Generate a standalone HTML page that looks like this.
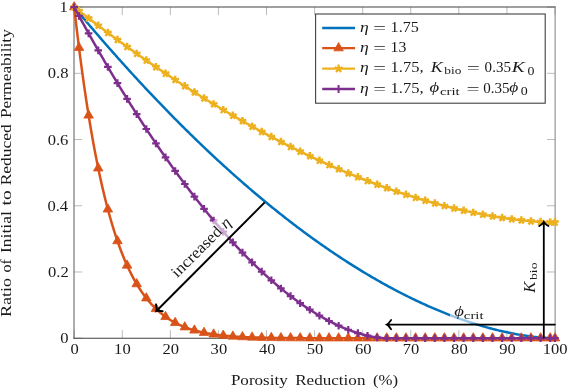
<!DOCTYPE html>
<html><head><meta charset="utf-8"><style>html,body{margin:0;padding:0;background:#fff;overflow:hidden}svg{display:block;will-change:transform;}</style></head>
<body><svg width="568" height="388" viewBox="0 0 568 388">
<rect width="568" height="388" fill="#fff"/>
<path d="M74.20,338.20 V330.20 M74.20,7.10 V15.10 M122.28,338.20 V330.20 M122.28,7.10 V15.10 M170.36,338.20 V330.20 M170.36,7.10 V15.10 M218.44,338.20 V330.20 M218.44,7.10 V15.10 M266.52,338.20 V330.20 M266.52,7.10 V15.10 M314.60,338.20 V330.20 M314.60,7.10 V15.10 M362.68,338.20 V330.20 M362.68,7.10 V15.10 M410.76,338.20 V330.20 M410.76,7.10 V15.10 M458.84,338.20 V330.20 M458.84,7.10 V15.10 M506.92,338.20 V330.20 M506.92,7.10 V15.10 M555.00,338.20 V330.20 M555.00,7.10 V15.10 M74.20,338.20 H82.20 M555.00,338.20 H547.00 M74.20,271.98 H82.20 M555.00,271.98 H547.00 M74.20,205.76 H82.20 M555.00,205.76 H547.00 M74.20,139.54 H82.20 M555.00,139.54 H547.00 M74.20,73.32 H82.20 M555.00,73.32 H547.00 M74.20,7.10 H82.20 M555.00,7.10 H547.00 " stroke="#b4b4b4" stroke-width="0.9" fill="none"/>
<path d="M73.5,7.0 H555.6" stroke="#404040" stroke-width="1.2"/>
<path d="M74.0,6.5 V338.8" stroke="#5a5a5a" stroke-width="1.0"/>
<path d="M555.1,6.5 V338.8" stroke="#808080" stroke-width="1.0"/>
<path d="M73.5,338.3 H555.6" stroke="#404040" stroke-width="1.1"/>
<g font-family="Liberation Serif" fill="#1a1a1a" style="font-kerning:none"><text x="70.61" y="354.00" font-size="14.8" textLength="8.29" lengthAdjust="spacingAndGlyphs">0</text><text x="114.13" y="354.00" font-size="14.8" textLength="16.58" lengthAdjust="spacingAndGlyphs">10</text><text x="162.57" y="354.00" font-size="14.8" textLength="16.58" lengthAdjust="spacingAndGlyphs">20</text><text x="210.62" y="354.00" font-size="14.8" textLength="16.58" lengthAdjust="spacingAndGlyphs">30</text><text x="258.94" y="354.00" font-size="14.8" textLength="16.58" lengthAdjust="spacingAndGlyphs">40</text><text x="306.70" y="354.00" font-size="14.8" textLength="16.58" lengthAdjust="spacingAndGlyphs">50</text><text x="354.90" y="354.00" font-size="14.8" textLength="16.58" lengthAdjust="spacingAndGlyphs">60</text><text x="402.79" y="354.00" font-size="14.8" textLength="16.58" lengthAdjust="spacingAndGlyphs">70</text><text x="451.10" y="354.00" font-size="14.8" textLength="16.58" lengthAdjust="spacingAndGlyphs">80</text><text x="499.23" y="354.00" font-size="14.8" textLength="16.58" lengthAdjust="spacingAndGlyphs">90</text><text x="542.71" y="354.00" font-size="14.8" textLength="24.86" lengthAdjust="spacingAndGlyphs">100</text><text x="60.24" y="343.20" font-size="14.8" textLength="8.29" lengthAdjust="spacingAndGlyphs">0</text><text x="48.09" y="276.98" font-size="14.8" textLength="20.72" lengthAdjust="spacingAndGlyphs">0.2</text><text x="47.44" y="210.76" font-size="14.8" textLength="20.72" lengthAdjust="spacingAndGlyphs">0.4</text><text x="47.67" y="144.54" font-size="14.8" textLength="20.72" lengthAdjust="spacingAndGlyphs">0.6</text><text x="47.81" y="78.32" font-size="14.8" textLength="20.72" lengthAdjust="spacingAndGlyphs">0.8</text><text x="59.61" y="12.10" font-size="14.8" textLength="8.29" lengthAdjust="spacingAndGlyphs">1</text></g>
<path d="M74.20,7.10 L75.40,8.55 L76.60,9.99 L77.81,11.43 L79.01,12.87 L80.21,14.31 L81.41,15.74 L82.61,17.17 L83.82,18.60 L85.02,20.03 L86.22,21.45 L87.42,22.87 L88.62,24.29 L89.83,25.70 L91.03,27.11 L92.23,28.52 L93.43,29.93 L94.63,31.33 L95.84,32.73 L97.04,34.13 L98.24,35.53 L99.44,36.92 L100.64,38.31 L101.85,39.70 L103.05,41.08 L104.25,42.46 L105.45,43.84 L106.65,45.22 L107.86,46.59 L109.06,47.96 L110.26,49.33 L111.46,50.69 L112.66,52.05 L113.87,53.41 L115.07,54.77 L116.27,56.12 L117.47,57.47 L118.67,58.82 L119.88,60.17 L121.08,61.51 L122.28,62.85 L123.48,64.19 L124.68,65.52 L125.89,66.85 L127.09,68.18 L128.29,69.51 L129.49,70.83 L130.69,72.15 L131.90,73.47 L133.10,74.78 L134.30,76.10 L135.50,77.41 L136.70,78.71 L137.91,80.02 L139.11,81.32 L140.31,82.61 L141.51,83.91 L142.71,85.20 L143.92,86.49 L145.12,87.78 L146.32,89.06 L147.52,90.34 L148.72,91.62 L149.93,92.89 L151.13,94.17 L152.33,95.44 L153.53,96.70 L154.73,97.97 L155.94,99.23 L157.14,100.49 L158.34,101.74 L159.54,102.99 L160.74,104.24 L161.95,105.49 L163.15,106.74 L164.35,107.98 L165.55,109.21 L166.75,110.45 L167.96,111.68 L169.16,112.91 L170.36,114.14 L171.56,115.36 L172.76,116.58 L173.97,117.80 L175.17,119.02 L176.37,120.23 L177.57,121.44 L178.77,122.65 L179.98,123.85 L181.18,125.05 L182.38,126.25 L183.58,127.44 L184.78,128.64 L185.99,129.82 L187.19,131.01 L188.39,132.19 L189.59,133.37 L190.79,134.55 L192.00,135.73 L193.20,136.90 L194.40,138.07 L195.60,139.23 L196.80,140.40 L198.01,141.56 L199.21,142.71 L200.41,143.87 L201.61,145.02 L202.81,146.17 L204.02,147.31 L205.22,148.46 L206.42,149.60 L207.62,150.73 L208.82,151.87 L210.03,153.00 L211.23,154.13 L212.43,155.25 L213.63,156.37 L214.83,157.49 L216.04,158.61 L217.24,159.72 L218.44,160.83 L219.64,161.94 L220.84,163.04 L222.05,164.14 L223.25,165.24 L224.45,166.34 L225.65,167.43 L226.85,168.52 L228.06,169.60 L229.26,170.69 L230.46,171.77 L231.66,172.84 L232.86,173.92 L234.07,174.99 L235.27,176.06 L236.47,177.12 L237.67,178.18 L238.87,179.24 L240.08,180.30 L241.28,181.35 L242.48,182.40 L243.68,183.45 L244.88,184.49 L246.09,185.54 L247.29,186.57 L248.49,187.61 L249.69,188.64 L250.89,189.67 L252.10,190.70 L253.30,191.72 L254.50,192.74 L255.70,193.75 L256.90,194.77 L258.11,195.78 L259.31,196.79 L260.51,197.79 L261.71,198.79 L262.91,199.79 L264.12,200.79 L265.32,201.78 L266.52,202.77 L267.72,203.75 L268.92,204.74 L270.13,205.72 L271.33,206.69 L272.53,207.67 L273.73,208.64 L274.93,209.60 L276.14,210.57 L277.34,211.53 L278.54,212.49 L279.74,213.44 L280.94,214.39 L282.15,215.34 L283.35,216.29 L284.55,217.23 L285.75,218.17 L286.95,219.11 L288.16,220.04 L289.36,220.97 L290.56,221.90 L291.76,222.82 L292.96,223.74 L294.17,224.66 L295.37,225.57 L296.57,226.48 L297.77,227.39 L298.97,228.29 L300.18,229.20 L301.38,230.09 L302.58,230.99 L303.78,231.88 L304.98,232.77 L306.19,233.66 L307.39,234.54 L308.59,235.42 L309.79,236.29 L310.99,237.16 L312.20,238.03 L313.40,238.90 L314.60,239.76 L315.80,240.62 L317.00,241.48 L318.21,242.33 L319.41,243.18 L320.61,244.03 L321.81,244.87 L323.01,245.71 L324.22,246.55 L325.42,247.38 L326.62,248.21 L327.82,249.04 L329.02,249.87 L330.23,250.69 L331.43,251.50 L332.63,252.32 L333.83,253.13 L335.03,253.94 L336.24,254.74 L337.44,255.54 L338.64,256.34 L339.84,257.13 L341.04,257.92 L342.25,258.71 L343.45,259.50 L344.65,260.28 L345.85,261.05 L347.05,261.83 L348.26,262.60 L349.46,263.37 L350.66,264.13 L351.86,264.89 L353.06,265.65 L354.27,266.40 L355.47,267.15 L356.67,267.90 L357.87,268.64 L359.07,269.39 L360.28,270.12 L361.48,270.86 L362.68,271.59 L363.88,272.31 L365.08,273.04 L366.29,273.76 L367.49,274.47 L368.69,275.19 L369.89,275.90 L371.09,276.60 L372.30,277.31 L373.50,278.00 L374.70,278.70 L375.90,279.39 L377.10,280.08 L378.31,280.77 L379.51,281.45 L380.71,282.13 L381.91,282.80 L383.11,283.47 L384.32,284.14 L385.52,284.81 L386.72,285.47 L387.92,286.12 L389.12,286.78 L390.33,287.43 L391.53,288.08 L392.73,288.72 L393.93,289.36 L395.13,289.99 L396.34,290.63 L397.54,291.26 L398.74,291.88 L399.94,292.50 L401.14,293.12 L402.35,293.74 L403.55,294.35 L404.75,294.95 L405.95,295.56 L407.15,296.16 L408.36,296.75 L409.56,297.35 L410.76,297.94 L411.96,298.52 L413.16,299.10 L414.37,299.68 L415.57,300.25 L416.77,300.83 L417.97,301.39 L419.17,301.96 L420.38,302.51 L421.58,303.07 L422.78,303.62 L423.98,304.17 L425.18,304.72 L426.39,305.26 L427.59,305.79 L428.79,306.33 L429.99,306.86 L431.19,307.38 L432.40,307.90 L433.60,308.42 L434.80,308.93 L436.00,309.44 L437.20,309.95 L438.41,310.45 L439.61,310.95 L440.81,311.45 L442.01,311.94 L443.21,312.42 L444.42,312.91 L445.62,313.39 L446.82,313.86 L448.02,314.33 L449.22,314.80 L450.43,315.26 L451.63,315.72 L452.83,316.18 L454.03,316.63 L455.23,317.08 L456.44,317.52 L457.64,317.96 L458.84,318.40 L460.04,318.83 L461.24,319.25 L462.45,319.68 L463.65,320.10 L464.85,320.51 L466.05,320.92 L467.25,321.33 L468.46,321.73 L469.66,322.13 L470.86,322.52 L472.06,322.91 L473.26,323.30 L474.47,323.68 L475.67,324.06 L476.87,324.43 L478.07,324.80 L479.27,325.16 L480.48,325.52 L481.68,325.88 L482.88,326.23 L484.08,326.58 L485.28,326.92 L486.49,327.26 L487.69,327.59 L488.89,327.92 L490.09,328.24 L491.29,328.57 L492.50,328.88 L493.70,329.19 L494.90,329.50 L496.10,329.80 L497.30,330.10 L498.51,330.39 L499.71,330.68 L500.91,330.96 L502.11,331.24 L503.31,331.52 L504.52,331.79 L505.72,332.05 L506.92,332.31 L508.12,332.57 L509.32,332.82 L510.53,333.06 L511.73,333.30 L512.93,333.54 L514.13,333.77 L515.33,334.00 L516.54,334.22 L517.74,334.43 L518.94,334.64 L520.14,334.85 L521.34,335.05 L522.55,335.24 L523.75,335.43 L524.95,335.61 L526.15,335.79 L527.35,335.96 L528.56,336.13 L529.76,336.29 L530.96,336.45 L532.16,336.60 L533.36,336.74 L534.57,336.88 L535.77,337.02 L536.97,337.14 L538.17,337.26 L539.37,337.38 L540.58,337.48 L541.78,337.59 L542.98,337.68 L544.18,337.77 L545.38,337.85 L546.59,337.92 L547.79,337.99 L548.99,338.05 L550.19,338.10 L551.39,338.14 L552.60,338.17 L553.80,338.19 L555.00,338.20" stroke="#0072bd" stroke-width="2.5" fill="none"/>
<path d="M74.20,7.10 L75.40,17.70 L76.60,27.99 L77.81,37.97 L79.01,47.65 L80.21,57.05 L81.41,66.16 L82.61,75.00 L83.82,83.58 L85.02,91.89 L86.22,99.96 L87.42,107.78 L88.62,115.36 L89.83,122.71 L91.03,129.84 L92.23,136.75 L93.43,143.45 L94.63,149.94 L95.84,156.23 L97.04,162.33 L98.24,168.23 L99.44,173.96 L100.64,179.50 L101.85,184.87 L103.05,190.08 L104.25,195.12 L105.45,200.00 L106.65,204.73 L107.86,209.30 L109.06,213.74 L110.26,218.03 L111.46,222.18 L112.66,226.20 L113.87,230.10 L115.07,233.86 L116.27,237.51 L117.47,241.04 L118.67,244.45 L119.88,247.75 L121.08,250.95 L122.28,254.04 L123.48,257.03 L124.68,259.92 L125.89,262.71 L127.09,265.42 L128.29,268.03 L129.49,270.56 L130.69,273.00 L131.90,275.36 L133.10,277.64 L134.30,279.85 L135.50,281.98 L136.70,284.04 L137.91,286.02 L139.11,287.95 L140.31,289.80 L141.51,291.59 L142.71,293.33 L143.92,295.00 L145.12,296.61 L146.32,298.17 L147.52,299.67 L148.72,301.12 L149.93,302.52 L151.13,303.88 L152.33,305.18 L153.53,306.44 L154.73,307.65 L155.94,308.83 L157.14,309.95 L158.34,311.04 L159.54,312.09 L160.74,313.11 L161.95,314.08 L163.15,315.03 L164.35,315.93 L165.55,316.81 L166.75,317.65 L167.96,318.46 L169.16,319.24 L170.36,320.00 L171.56,320.72 L172.76,321.42 L173.97,322.10 L175.17,322.74 L176.37,323.37 L177.57,323.97 L178.77,324.55 L179.98,325.10 L181.18,325.64 L182.38,326.15 L183.58,326.65 L184.78,327.13 L185.99,327.58 L187.19,328.02 L188.39,328.45 L189.59,328.86 L190.79,329.25 L192.00,329.62 L193.20,329.99 L194.40,330.33 L195.60,330.67 L196.80,330.99 L198.01,331.30 L199.21,331.59 L200.41,331.88 L201.61,332.15 L202.81,332.41 L204.02,332.66 L205.22,332.91 L206.42,333.14 L207.62,333.36 L208.82,333.57 L210.03,333.78 L211.23,333.97 L212.43,334.16 L213.63,334.34 L214.83,334.52 L216.04,334.68 L217.24,334.84 L218.44,334.99 L219.64,335.14 L220.84,335.28 L222.05,335.41 L223.25,335.54 L224.45,335.66 L225.65,335.78 L226.85,335.89 L228.06,336.00 L229.26,336.10 L230.46,336.20 L231.66,336.29 L232.86,336.38 L234.07,336.47 L235.27,336.55 L236.47,336.63 L237.67,336.71 L238.87,336.78 L240.08,336.85 L241.28,336.91 L242.48,336.98 L243.68,337.04 L244.88,337.09 L246.09,337.15 L247.29,337.20 L248.49,337.25 L249.69,337.30 L250.89,337.34 L252.10,337.38 L253.30,337.43 L254.50,337.46 L255.70,337.50 L256.90,337.54 L258.11,337.57 L259.31,337.60 L260.51,337.63 L261.71,337.66 L262.91,337.69 L264.12,337.72 L265.32,337.74 L266.52,337.77 L267.72,337.79 L268.92,337.81 L270.13,337.83 L271.33,337.85 L272.53,337.87 L273.73,337.89 L274.93,337.91 L276.14,337.92 L277.34,337.94 L278.54,337.95 L279.74,337.97 L280.94,337.98 L282.15,337.99 L283.35,338.00 L284.55,338.01 L285.75,338.02 L286.95,338.03 L288.16,338.04 L289.36,338.05 L290.56,338.06 L291.76,338.07 L292.96,338.08 L294.17,338.08 L295.37,338.09 L296.57,338.10 L297.77,338.10 L298.97,338.11 L300.18,338.11 L301.38,338.12 L302.58,338.12 L303.78,338.13 L304.98,338.13 L306.19,338.14 L307.39,338.14 L308.59,338.14 L309.79,338.15 L310.99,338.15 L312.20,338.15 L313.40,338.16 L314.60,338.16 L315.80,338.16 L317.00,338.16 L318.21,338.17 L319.41,338.17 L320.61,338.17 L321.81,338.17 L323.01,338.17 L324.22,338.18 L325.42,338.18 L326.62,338.18 L327.82,338.18 L329.02,338.18 L330.23,338.18 L331.43,338.18 L332.63,338.19 L333.83,338.19 L335.03,338.19 L336.24,338.19 L337.44,338.19 L338.64,338.19 L339.84,338.19 L341.04,338.19 L342.25,338.19 L343.45,338.19 L344.65,338.19 L345.85,338.19 L347.05,338.19 L348.26,338.19 L349.46,338.19 L350.66,338.20 L351.86,338.20 L353.06,338.20 L354.27,338.20 L355.47,338.20 L356.67,338.20 L357.87,338.20 L359.07,338.20 L360.28,338.20 L361.48,338.20 L362.68,338.20 L363.88,338.20 L365.08,338.20 L366.29,338.20 L367.49,338.20 L368.69,338.20 L369.89,338.20 L371.09,338.20 L372.30,338.20 L373.50,338.20 L374.70,338.20 L375.90,338.20 L377.10,338.20 L378.31,338.20 L379.51,338.20 L380.71,338.20 L381.91,338.20 L383.11,338.20 L384.32,338.20 L385.52,338.20 L386.72,338.20 L387.92,338.20 L389.12,338.20 L390.33,338.20 L391.53,338.20 L392.73,338.20 L393.93,338.20 L395.13,338.20 L396.34,338.20 L397.54,338.20 L398.74,338.20 L399.94,338.20 L401.14,338.20 L402.35,338.20 L403.55,338.20 L404.75,338.20 L405.95,338.20 L407.15,338.20 L408.36,338.20 L409.56,338.20 L410.76,338.20 L411.96,338.20 L413.16,338.20 L414.37,338.20 L415.57,338.20 L416.77,338.20 L417.97,338.20 L419.17,338.20 L420.38,338.20 L421.58,338.20 L422.78,338.20 L423.98,338.20 L425.18,338.20 L426.39,338.20 L427.59,338.20 L428.79,338.20 L429.99,338.20 L431.19,338.20 L432.40,338.20 L433.60,338.20 L434.80,338.20 L436.00,338.20 L437.20,338.20 L438.41,338.20 L439.61,338.20 L440.81,338.20 L442.01,338.20 L443.21,338.20 L444.42,338.20 L445.62,338.20 L446.82,338.20 L448.02,338.20 L449.22,338.20 L450.43,338.20 L451.63,338.20 L452.83,338.20 L454.03,338.20 L455.23,338.20 L456.44,338.20 L457.64,338.20 L458.84,338.20 L460.04,338.20 L461.24,338.20 L462.45,338.20 L463.65,338.20 L464.85,338.20 L466.05,338.20 L467.25,338.20 L468.46,338.20 L469.66,338.20 L470.86,338.20 L472.06,338.20 L473.26,338.20 L474.47,338.20 L475.67,338.20 L476.87,338.20 L478.07,338.20 L479.27,338.20 L480.48,338.20 L481.68,338.20 L482.88,338.20 L484.08,338.20 L485.28,338.20 L486.49,338.20 L487.69,338.20 L488.89,338.20 L490.09,338.20 L491.29,338.20 L492.50,338.20 L493.70,338.20 L494.90,338.20 L496.10,338.20 L497.30,338.20 L498.51,338.20 L499.71,338.20 L500.91,338.20 L502.11,338.20 L503.31,338.20 L504.52,338.20 L505.72,338.20 L506.92,338.20 L508.12,338.20 L509.32,338.20 L510.53,338.20 L511.73,338.20 L512.93,338.20 L514.13,338.20 L515.33,338.20 L516.54,338.20 L517.74,338.20 L518.94,338.20 L520.14,338.20 L521.34,338.20 L522.55,338.20 L523.75,338.20 L524.95,338.20 L526.15,338.20 L527.35,338.20 L528.56,338.20 L529.76,338.20 L530.96,338.20 L532.16,338.20 L533.36,338.20 L534.57,338.20 L535.77,338.20 L536.97,338.20 L538.17,338.20 L539.37,338.20 L540.58,338.20 L541.78,338.20 L542.98,338.20 L544.18,338.20 L545.38,338.20 L546.59,338.20 L547.79,338.20 L548.99,338.20 L550.19,338.20 L551.39,338.20 L552.60,338.20 L553.80,338.20 L555.00,338.20" stroke="#d95319" stroke-width="2.5" fill="none"/>
<path d="M74.20,1.60 L78.96,9.85 L69.44,9.85 Z M79.01,42.15 L83.77,50.40 L74.25,50.40 Z M88.62,109.86 L93.39,118.11 L83.86,118.11 Z M98.24,162.73 L103.00,170.98 L93.48,170.98 Z M107.86,203.80 L112.62,212.05 L103.09,212.05 Z M117.47,235.54 L122.24,243.79 L112.71,243.79 Z M127.09,259.92 L131.85,268.17 L122.33,268.17 Z M136.70,278.54 L141.47,286.79 L131.94,286.79 Z M146.32,292.67 L151.08,300.92 L141.56,300.92 Z M155.94,303.33 L160.70,311.58 L151.17,311.58 Z M165.55,311.31 L170.32,319.56 L160.79,319.56 Z M175.17,317.24 L179.93,325.49 L170.41,325.49 Z M184.78,321.63 L189.55,329.88 L180.02,329.88 Z M194.40,324.83 L199.16,333.08 L189.64,333.08 Z M204.02,327.16 L208.78,335.41 L199.25,335.41 Z M213.63,328.84 L218.40,337.09 L208.87,337.09 Z M223.25,330.04 L228.01,338.29 L218.48,338.29 Z M232.86,330.88 L237.63,339.13 L228.10,339.13 Z M242.48,331.48 L247.24,339.73 L237.72,339.73 Z M252.10,331.88 L256.86,340.13 L247.33,340.13 Z M261.71,332.16 L266.47,340.41 L256.95,340.41 Z M271.33,332.35 L276.09,340.60 L266.56,340.60 Z M280.94,332.48 L285.71,340.73 L276.18,340.73 Z M290.56,332.56 L295.32,340.81 L285.80,340.81 Z M300.18,332.61 L304.94,340.86 L295.41,340.86 Z M309.79,332.65 L314.56,340.90 L305.03,340.90 Z M319.41,332.67 L324.17,340.92 L314.65,340.92 Z M329.02,332.68 L333.79,340.93 L324.26,340.93 Z M338.64,332.69 L343.40,340.94 L333.88,340.94 Z M348.26,332.69 L353.02,340.94 L343.49,340.94 Z M357.87,332.70 L362.63,340.95 L353.11,340.95 Z M367.49,332.70 L372.25,340.95 L362.73,340.95 Z M377.10,332.70 L381.87,340.95 L372.34,340.95 Z M386.72,332.70 L391.48,340.95 L381.96,340.95 Z M396.34,332.70 L401.10,340.95 L391.57,340.95 Z M405.95,332.70 L410.72,340.95 L401.19,340.95 Z M415.57,332.70 L420.33,340.95 L410.81,340.95 Z M425.18,332.70 L429.95,340.95 L420.42,340.95 Z M434.80,332.70 L439.56,340.95 L430.04,340.95 Z M444.42,332.70 L449.18,340.95 L439.65,340.95 Z M454.03,332.70 L458.80,340.95 L449.27,340.95 Z M463.65,332.70 L468.41,340.95 L458.89,340.95 Z M473.26,332.70 L478.03,340.95 L468.50,340.95 Z M482.88,332.70 L487.64,340.95 L478.12,340.95 Z M492.50,332.70 L497.26,340.95 L487.73,340.95 Z M502.11,332.70 L506.88,340.95 L497.35,340.95 Z M511.73,332.70 L516.49,340.95 L506.97,340.95 Z M521.34,332.70 L526.11,340.95 L516.58,340.95 Z M530.96,332.70 L535.72,340.95 L526.20,340.95 Z M540.58,332.70 L545.34,340.95 L535.81,340.95 Z M550.19,332.70 L554.96,340.95 L545.43,340.95 Z M555.00,332.70 L559.76,340.95 L550.24,340.95 Z" fill="#d95319" stroke="#d95319" stroke-width="0.8"/>
<path d="M74.20,7.10 L75.40,8.04 L76.60,8.98 L77.81,9.92 L79.01,10.85 L80.21,11.79 L81.41,12.72 L82.61,13.65 L83.82,14.58 L85.02,15.50 L86.22,16.43 L87.42,17.35 L88.62,18.27 L89.83,19.19 L91.03,20.11 L92.23,21.02 L93.43,21.94 L94.63,22.85 L95.84,23.76 L97.04,24.67 L98.24,25.58 L99.44,26.48 L100.64,27.39 L101.85,28.29 L103.05,29.19 L104.25,30.08 L105.45,30.98 L106.65,31.88 L107.86,32.77 L109.06,33.66 L110.26,34.55 L111.46,35.43 L112.66,36.32 L113.87,37.20 L115.07,38.09 L116.27,38.97 L117.47,39.84 L118.67,40.72 L119.88,41.59 L121.08,42.47 L122.28,43.34 L123.48,44.21 L124.68,45.07 L125.89,45.94 L127.09,46.80 L128.29,47.67 L129.49,48.53 L130.69,49.38 L131.90,50.24 L133.10,51.09 L134.30,51.95 L135.50,52.80 L136.70,53.65 L137.91,54.49 L139.11,55.34 L140.31,56.18 L141.51,57.03 L142.71,57.87 L143.92,58.70 L145.12,59.54 L146.32,60.37 L147.52,61.21 L148.72,62.04 L149.93,62.87 L151.13,63.69 L152.33,64.52 L153.53,65.34 L154.73,66.16 L155.94,66.98 L157.14,67.80 L158.34,68.62 L159.54,69.43 L160.74,70.24 L161.95,71.05 L163.15,71.86 L164.35,72.67 L165.55,73.47 L166.75,74.28 L167.96,75.08 L169.16,75.88 L170.36,76.68 L171.56,77.47 L172.76,78.26 L173.97,79.06 L175.17,79.85 L176.37,80.63 L177.57,81.42 L178.77,82.20 L179.98,82.99 L181.18,83.77 L182.38,84.55 L183.58,85.32 L184.78,86.10 L185.99,86.87 L187.19,87.64 L188.39,88.41 L189.59,89.18 L190.79,89.94 L192.00,90.71 L193.20,91.47 L194.40,92.23 L195.60,92.99 L196.80,93.74 L198.01,94.50 L199.21,95.25 L200.41,96.00 L201.61,96.75 L202.81,97.49 L204.02,98.24 L205.22,98.98 L206.42,99.72 L207.62,100.46 L208.82,101.20 L210.03,101.93 L211.23,102.67 L212.43,103.40 L213.63,104.13 L214.83,104.85 L216.04,105.58 L217.24,106.30 L218.44,107.02 L219.64,107.74 L220.84,108.46 L222.05,109.18 L223.25,109.89 L224.45,110.60 L225.65,111.31 L226.85,112.02 L228.06,112.73 L229.26,113.43 L230.46,114.13 L231.66,114.83 L232.86,115.53 L234.07,116.23 L235.27,116.92 L236.47,117.61 L237.67,118.31 L238.87,118.99 L240.08,119.68 L241.28,120.36 L242.48,121.05 L243.68,121.73 L244.88,122.41 L246.09,123.08 L247.29,123.76 L248.49,124.43 L249.69,125.10 L250.89,125.77 L252.10,126.44 L253.30,127.10 L254.50,127.76 L255.70,128.43 L256.90,129.08 L258.11,129.74 L259.31,130.40 L260.51,131.05 L261.71,131.70 L262.91,132.35 L264.12,133.00 L265.32,133.64 L266.52,134.28 L267.72,134.92 L268.92,135.56 L270.13,136.20 L271.33,136.84 L272.53,137.47 L273.73,138.10 L274.93,138.73 L276.14,139.35 L277.34,139.98 L278.54,140.60 L279.74,141.22 L280.94,141.84 L282.15,142.46 L283.35,143.07 L284.55,143.69 L285.75,144.30 L286.95,144.90 L288.16,145.51 L289.36,146.12 L290.56,146.72 L291.76,147.32 L292.96,147.92 L294.17,148.51 L295.37,149.11 L296.57,149.70 L297.77,150.29 L298.97,150.88 L300.18,151.46 L301.38,152.05 L302.58,152.63 L303.78,153.21 L304.98,153.79 L306.19,154.36 L307.39,154.93 L308.59,155.51 L309.79,156.07 L310.99,156.64 L312.20,157.21 L313.40,157.77 L314.60,158.33 L315.80,158.89 L317.00,159.45 L318.21,160.00 L319.41,160.55 L320.61,161.10 L321.81,161.65 L323.01,162.20 L324.22,162.74 L325.42,163.28 L326.62,163.82 L327.82,164.36 L329.02,164.90 L330.23,165.43 L331.43,165.96 L332.63,166.49 L333.83,167.02 L335.03,167.54 L336.24,168.07 L337.44,168.59 L338.64,169.10 L339.84,169.62 L341.04,170.14 L342.25,170.65 L343.45,171.16 L344.65,171.66 L345.85,172.17 L347.05,172.67 L348.26,173.17 L349.46,173.67 L350.66,174.17 L351.86,174.66 L353.06,175.16 L354.27,175.65 L355.47,176.13 L356.67,176.62 L357.87,177.10 L359.07,177.59 L360.28,178.06 L361.48,178.54 L362.68,179.02 L363.88,179.49 L365.08,179.96 L366.29,180.43 L367.49,180.89 L368.69,181.36 L369.89,181.82 L371.09,182.28 L372.30,182.73 L373.50,183.19 L374.70,183.64 L375.90,184.09 L377.10,184.54 L378.31,184.98 L379.51,185.43 L380.71,185.87 L381.91,186.31 L383.11,186.74 L384.32,187.18 L385.52,187.61 L386.72,188.04 L387.92,188.47 L389.12,188.89 L390.33,189.31 L391.53,189.73 L392.73,190.15 L393.93,190.57 L395.13,190.98 L396.34,191.39 L397.54,191.80 L398.74,192.21 L399.94,192.61 L401.14,193.01 L402.35,193.41 L403.55,193.81 L404.75,194.21 L405.95,194.60 L407.15,194.99 L408.36,195.38 L409.56,195.76 L410.76,196.14 L411.96,196.52 L413.16,196.90 L414.37,197.28 L415.57,197.65 L416.77,198.02 L417.97,198.39 L419.17,198.76 L420.38,199.12 L421.58,199.48 L422.78,199.84 L423.98,200.20 L425.18,200.55 L426.39,200.90 L427.59,201.25 L428.79,201.60 L429.99,201.94 L431.19,202.28 L432.40,202.62 L433.60,202.96 L434.80,203.29 L436.00,203.62 L437.20,203.95 L438.41,204.28 L439.61,204.60 L440.81,204.93 L442.01,205.24 L443.21,205.56 L444.42,205.88 L445.62,206.19 L446.82,206.50 L448.02,206.80 L449.22,207.11 L450.43,207.41 L451.63,207.71 L452.83,208.00 L454.03,208.29 L455.23,208.59 L456.44,208.87 L457.64,209.16 L458.84,209.44 L460.04,209.72 L461.24,210.00 L462.45,210.28 L463.65,210.55 L464.85,210.82 L466.05,211.08 L467.25,211.35 L468.46,211.61 L469.66,211.87 L470.86,212.12 L472.06,212.38 L473.26,212.63 L474.47,212.88 L475.67,213.12 L476.87,213.36 L478.07,213.60 L479.27,213.84 L480.48,214.07 L481.68,214.31 L482.88,214.53 L484.08,214.76 L485.28,214.98 L486.49,215.20 L487.69,215.42 L488.89,215.63 L490.09,215.84 L491.29,216.05 L492.50,216.26 L493.70,216.46 L494.90,216.66 L496.10,216.86 L497.30,217.05 L498.51,217.24 L499.71,217.43 L500.91,217.61 L502.11,217.79 L503.31,217.97 L504.52,218.15 L505.72,218.32 L506.92,218.49 L508.12,218.65 L509.32,218.82 L510.53,218.98 L511.73,219.13 L512.93,219.29 L514.13,219.44 L515.33,219.58 L516.54,219.73 L517.74,219.87 L518.94,220.00 L520.14,220.13 L521.34,220.26 L522.55,220.39 L523.75,220.51 L524.95,220.63 L526.15,220.75 L527.35,220.86 L528.56,220.97 L529.76,221.08 L530.96,221.18 L532.16,221.27 L533.36,221.37 L534.57,221.46 L535.77,221.55 L536.97,221.63 L538.17,221.71 L539.37,221.78 L540.58,221.85 L541.78,221.92 L542.98,221.98 L544.18,222.03 L545.38,222.09 L546.59,222.13 L547.79,222.18 L548.99,222.21 L550.19,222.25 L551.39,222.27 L552.60,222.29 L553.80,222.31 L555.00,222.31" stroke="#edb120" stroke-width="2.5" fill="none"/>
<path d="M74.20,7.10 L74.20,3.10 M74.20,7.10 L70.40,5.86 M74.20,7.10 L71.85,10.34 M74.20,7.10 L76.55,10.34 M74.20,7.10 L78.00,5.86  M79.01,10.85 L79.01,6.85 M79.01,10.85 L75.20,9.62 M79.01,10.85 L76.66,14.09 M79.01,10.85 L81.36,14.09 M79.01,10.85 L82.81,9.62  M88.62,18.27 L88.62,14.27 M88.62,18.27 L84.82,17.04 M88.62,18.27 L86.27,21.51 M88.62,18.27 L90.98,21.51 M88.62,18.27 L92.43,17.04  M98.24,25.58 L98.24,21.58 M98.24,25.58 L94.44,24.34 M98.24,25.58 L95.89,28.81 M98.24,25.58 L100.59,28.81 M98.24,25.58 L102.04,24.34  M107.86,32.77 L107.86,28.77 M107.86,32.77 L104.05,31.53 M107.86,32.77 L105.50,36.00 M107.86,32.77 L110.21,36.00 M107.86,32.77 L111.66,31.53  M117.47,39.84 L117.47,35.84 M117.47,39.84 L113.67,38.61 M117.47,39.84 L115.12,43.08 M117.47,39.84 L119.82,43.08 M117.47,39.84 L121.28,38.61  M127.09,46.80 L127.09,42.80 M127.09,46.80 L123.28,45.57 M127.09,46.80 L124.74,50.04 M127.09,46.80 L129.44,50.04 M127.09,46.80 L130.89,45.57  M136.70,53.65 L136.70,49.65 M136.70,53.65 L132.90,52.41 M136.70,53.65 L134.35,56.88 M136.70,53.65 L139.06,56.88 M136.70,53.65 L140.51,52.41  M146.32,60.37 L146.32,56.37 M146.32,60.37 L142.52,59.14 M146.32,60.37 L143.97,63.61 M146.32,60.37 L148.67,63.61 M146.32,60.37 L150.12,59.14  M155.94,66.98 L155.94,62.98 M155.94,66.98 L152.13,65.75 M155.94,66.98 L153.58,70.22 M155.94,66.98 L158.29,70.22 M155.94,66.98 L159.74,65.75  M165.55,73.47 L165.55,69.47 M165.55,73.47 L161.75,72.24 M165.55,73.47 L163.20,76.71 M165.55,73.47 L167.90,76.71 M165.55,73.47 L169.36,72.24  M175.17,79.85 L175.17,75.85 M175.17,79.85 L171.36,78.61 M175.17,79.85 L172.82,83.08 M175.17,79.85 L177.52,83.08 M175.17,79.85 L178.97,78.61  M184.78,86.10 L184.78,82.10 M184.78,86.10 L180.98,84.86 M184.78,86.10 L182.43,89.33 M184.78,86.10 L187.14,89.33 M184.78,86.10 L188.59,84.86  M194.40,92.23 L194.40,88.23 M194.40,92.23 L190.60,90.99 M194.40,92.23 L192.05,95.47 M194.40,92.23 L196.75,95.47 M194.40,92.23 L198.20,90.99  M204.02,98.24 L204.02,94.24 M204.02,98.24 L200.21,97.00 M204.02,98.24 L201.66,101.48 M204.02,98.24 L206.37,101.48 M204.02,98.24 L207.82,97.00  M213.63,104.13 L213.63,100.13 M213.63,104.13 L209.83,102.89 M213.63,104.13 L211.28,107.36 M213.63,104.13 L215.98,107.36 M213.63,104.13 L217.44,102.89  M223.25,109.89 L223.25,105.89 M223.25,109.89 L219.44,108.66 M223.25,109.89 L220.90,113.13 M223.25,109.89 L225.60,113.13 M223.25,109.89 L227.05,108.66  M232.86,115.53 L232.86,111.53 M232.86,115.53 L229.06,114.30 M232.86,115.53 L230.51,118.77 M232.86,115.53 L235.22,118.77 M232.86,115.53 L236.67,114.30  M242.48,121.05 L242.48,117.05 M242.48,121.05 L238.68,119.81 M242.48,121.05 L240.13,124.28 M242.48,121.05 L244.83,124.28 M242.48,121.05 L246.28,119.81  M252.10,126.44 L252.10,122.44 M252.10,126.44 L248.29,125.20 M252.10,126.44 L249.74,129.67 M252.10,126.44 L254.45,129.67 M252.10,126.44 L255.90,125.20  M261.71,131.70 L261.71,127.70 M261.71,131.70 L257.91,130.46 M261.71,131.70 L259.36,134.94 M261.71,131.70 L264.06,134.94 M261.71,131.70 L265.52,130.46  M271.33,136.84 L271.33,132.84 M271.33,136.84 L267.52,135.60 M271.33,136.84 L268.98,140.07 M271.33,136.84 L273.68,140.07 M271.33,136.84 L275.13,135.60  M280.94,141.84 L280.94,137.84 M280.94,141.84 L277.14,140.61 M280.94,141.84 L278.59,145.08 M280.94,141.84 L283.30,145.08 M280.94,141.84 L284.75,140.61  M290.56,146.72 L290.56,142.72 M290.56,146.72 L286.76,145.48 M290.56,146.72 L288.21,149.95 M290.56,146.72 L292.91,149.95 M290.56,146.72 L294.36,145.48  M300.18,151.46 L300.18,147.46 M300.18,151.46 L296.37,150.23 M300.18,151.46 L297.82,154.70 M300.18,151.46 L302.53,154.70 M300.18,151.46 L303.98,150.23  M309.79,156.07 L309.79,152.07 M309.79,156.07 L305.99,154.84 M309.79,156.07 L307.44,159.31 M309.79,156.07 L312.14,159.31 M309.79,156.07 L313.60,154.84  M319.41,160.55 L319.41,156.55 M319.41,160.55 L315.60,159.32 M319.41,160.55 L317.06,163.79 M319.41,160.55 L321.76,163.79 M319.41,160.55 L323.21,159.32  M329.02,164.90 L329.02,160.90 M329.02,164.90 L325.22,163.66 M329.02,164.90 L326.67,168.13 M329.02,164.90 L331.38,168.13 M329.02,164.90 L332.83,163.66  M338.64,169.10 L338.64,165.10 M338.64,169.10 L334.84,167.87 M338.64,169.10 L336.29,172.34 M338.64,169.10 L340.99,172.34 M338.64,169.10 L342.44,167.87  M348.26,173.17 L348.26,169.17 M348.26,173.17 L344.45,171.94 M348.26,173.17 L345.90,176.41 M348.26,173.17 L350.61,176.41 M348.26,173.17 L352.06,171.94  M357.87,177.10 L357.87,173.10 M357.87,177.10 L354.07,175.87 M357.87,177.10 L355.52,180.34 M357.87,177.10 L360.22,180.34 M357.87,177.10 L361.68,175.87  M367.49,180.89 L367.49,176.89 M367.49,180.89 L363.68,179.66 M367.49,180.89 L365.14,184.13 M367.49,180.89 L369.84,184.13 M367.49,180.89 L371.29,179.66  M377.10,184.54 L377.10,180.54 M377.10,184.54 L373.30,183.30 M377.10,184.54 L374.75,187.77 M377.10,184.54 L379.46,187.77 M377.10,184.54 L380.91,183.30  M386.72,188.04 L386.72,184.04 M386.72,188.04 L382.92,186.80 M386.72,188.04 L384.37,191.27 M386.72,188.04 L389.07,191.27 M386.72,188.04 L390.52,186.80  M396.34,191.39 L396.34,187.39 M396.34,191.39 L392.53,190.16 M396.34,191.39 L393.98,194.63 M396.34,191.39 L398.69,194.63 M396.34,191.39 L400.14,190.16  M405.95,194.60 L405.95,190.60 M405.95,194.60 L402.15,193.36 M405.95,194.60 L403.60,197.83 M405.95,194.60 L408.30,197.83 M405.95,194.60 L409.76,193.36  M415.57,197.65 L415.57,193.65 M415.57,197.65 L411.76,196.41 M415.57,197.65 L413.22,200.89 M415.57,197.65 L417.92,200.89 M415.57,197.65 L419.37,196.41  M425.18,200.55 L425.18,196.55 M425.18,200.55 L421.38,199.31 M425.18,200.55 L422.83,203.79 M425.18,200.55 L427.54,203.79 M425.18,200.55 L428.99,199.31  M434.80,203.29 L434.80,199.29 M434.80,203.29 L431.00,202.06 M434.80,203.29 L432.45,206.53 M434.80,203.29 L437.15,206.53 M434.80,203.29 L438.60,202.06  M444.42,205.88 L444.42,201.88 M444.42,205.88 L440.61,204.64 M444.42,205.88 L442.06,209.11 M444.42,205.88 L446.77,209.11 M444.42,205.88 L448.22,204.64  M454.03,208.29 L454.03,204.29 M454.03,208.29 L450.23,207.06 M454.03,208.29 L451.68,211.53 M454.03,208.29 L456.38,211.53 M454.03,208.29 L457.84,207.06  M463.65,210.55 L463.65,206.55 M463.65,210.55 L459.84,209.31 M463.65,210.55 L461.30,213.78 M463.65,210.55 L466.00,213.78 M463.65,210.55 L467.45,209.31  M473.26,212.63 L473.26,208.63 M473.26,212.63 L469.46,211.39 M473.26,212.63 L470.91,215.86 M473.26,212.63 L475.62,215.86 M473.26,212.63 L477.07,211.39  M482.88,214.53 L482.88,210.53 M482.88,214.53 L479.08,213.30 M482.88,214.53 L480.53,217.77 M482.88,214.53 L485.23,217.77 M482.88,214.53 L486.68,213.30  M492.50,216.26 L492.50,212.26 M492.50,216.26 L488.69,215.02 M492.50,216.26 L490.14,219.49 M492.50,216.26 L494.85,219.49 M492.50,216.26 L496.30,215.02  M502.11,217.79 L502.11,213.79 M502.11,217.79 L498.31,216.56 M502.11,217.79 L499.76,221.03 M502.11,217.79 L504.46,221.03 M502.11,217.79 L505.92,216.56  M511.73,219.13 L511.73,215.13 M511.73,219.13 L507.92,217.90 M511.73,219.13 L509.38,222.37 M511.73,219.13 L514.08,222.37 M511.73,219.13 L515.53,217.90  M521.34,220.26 L521.34,216.26 M521.34,220.26 L517.54,219.03 M521.34,220.26 L518.99,223.50 M521.34,220.26 L523.70,223.50 M521.34,220.26 L525.15,219.03  M530.96,221.18 L530.96,217.18 M530.96,221.18 L527.16,219.94 M530.96,221.18 L528.61,224.41 M530.96,221.18 L533.31,224.41 M530.96,221.18 L534.76,219.94  M540.58,221.85 L540.58,217.85 M540.58,221.85 L536.77,220.61 M540.58,221.85 L538.22,225.09 M540.58,221.85 L542.93,225.09 M540.58,221.85 L544.38,220.61  M550.19,222.25 L550.19,218.25 M550.19,222.25 L546.39,221.01 M550.19,222.25 L547.84,225.48 M550.19,222.25 L552.54,225.48 M550.19,222.25 L554.00,221.01  M555.00,222.31 L555.00,218.31 M555.00,222.31 L551.20,221.08 M555.00,222.31 L552.65,225.55 M555.00,222.31 L557.35,225.55 M555.00,222.31 L558.80,221.08 " stroke="#edb120" stroke-width="2.5" fill="none"/>
<path d="M74.20,7.10 L75.40,9.33 L76.60,11.54 L77.81,13.76 L79.01,15.96 L80.21,18.16 L81.41,20.36 L82.61,22.54 L83.82,24.72 L85.02,26.90 L86.22,29.06 L87.42,31.22 L88.62,33.38 L89.83,35.53 L91.03,37.67 L92.23,39.80 L93.43,41.93 L94.63,44.05 L95.84,46.17 L97.04,48.28 L98.24,50.38 L99.44,52.47 L100.64,54.56 L101.85,56.64 L103.05,58.72 L104.25,60.79 L105.45,62.85 L106.65,64.91 L107.86,66.96 L109.06,69.00 L110.26,71.04 L111.46,73.06 L112.66,75.09 L113.87,77.10 L115.07,79.11 L116.27,81.12 L117.47,83.11 L118.67,85.10 L119.88,87.08 L121.08,89.06 L122.28,91.03 L123.48,92.99 L124.68,94.95 L125.89,96.90 L127.09,98.84 L128.29,100.78 L129.49,102.71 L130.69,104.63 L131.90,106.54 L133.10,108.45 L134.30,110.35 L135.50,112.25 L136.70,114.14 L137.91,116.02 L139.11,117.90 L140.31,119.76 L141.51,121.62 L142.71,123.48 L143.92,125.33 L145.12,127.17 L146.32,129.00 L147.52,130.83 L148.72,132.65 L149.93,134.46 L151.13,136.27 L152.33,138.07 L153.53,139.86 L154.73,141.65 L155.94,143.43 L157.14,145.20 L158.34,146.96 L159.54,148.72 L160.74,150.47 L161.95,152.21 L163.15,153.95 L164.35,155.68 L165.55,157.40 L166.75,159.12 L167.96,160.83 L169.16,162.53 L170.36,164.23 L171.56,165.91 L172.76,167.60 L173.97,169.27 L175.17,170.94 L176.37,172.60 L177.57,174.25 L178.77,175.89 L179.98,177.53 L181.18,179.16 L182.38,180.79 L183.58,182.40 L184.78,184.01 L185.99,185.62 L187.19,187.21 L188.39,188.80 L189.59,190.38 L190.79,191.95 L192.00,193.52 L193.20,195.08 L194.40,196.63 L195.60,198.18 L196.80,199.71 L198.01,201.24 L199.21,202.77 L200.41,204.28 L201.61,205.79 L202.81,207.29 L204.02,208.79 L205.22,210.27 L206.42,211.75 L207.62,213.22 L208.82,214.69 L210.03,216.14 L211.23,217.59 L212.43,219.03 L213.63,220.47 L214.83,221.90 L216.04,223.32 L217.24,224.73 L218.44,226.13 L219.64,227.53 L220.84,228.92 L222.05,230.30 L223.25,231.68 L224.45,233.04 L225.65,234.40 L226.85,235.75 L228.06,237.10 L229.26,238.43 L230.46,239.76 L231.66,241.08 L232.86,242.40 L234.07,243.70 L235.27,245.00 L236.47,246.29 L237.67,247.58 L238.87,248.85 L240.08,250.12 L241.28,251.38 L242.48,252.63 L243.68,253.87 L244.88,255.11 L246.09,256.34 L247.29,257.56 L248.49,258.77 L249.69,259.98 L250.89,261.17 L252.10,262.36 L253.30,263.54 L254.50,264.72 L255.70,265.88 L256.90,267.04 L258.11,268.19 L259.31,269.33 L260.51,270.46 L261.71,271.59 L262.91,272.70 L264.12,273.81 L265.32,274.91 L266.52,276.00 L267.72,277.09 L268.92,278.17 L270.13,279.23 L271.33,280.29 L272.53,281.34 L273.73,282.39 L274.93,283.42 L276.14,284.45 L277.34,285.47 L278.54,286.48 L279.74,287.48 L280.94,288.47 L282.15,289.46 L283.35,290.43 L284.55,291.40 L285.75,292.36 L286.95,293.31 L288.16,294.25 L289.36,295.19 L290.56,296.11 L291.76,297.03 L292.96,297.94 L294.17,298.83 L295.37,299.72 L296.57,300.61 L297.77,301.48 L298.97,302.34 L300.18,303.20 L301.38,304.04 L302.58,304.88 L303.78,305.71 L304.98,306.53 L306.19,307.34 L307.39,308.14 L308.59,308.93 L309.79,309.72 L310.99,310.49 L312.20,311.26 L313.40,312.01 L314.60,312.76 L315.80,313.50 L317.00,314.23 L318.21,314.94 L319.41,315.65 L320.61,316.35 L321.81,317.04 L323.01,317.72 L324.22,318.40 L325.42,319.06 L326.62,319.71 L327.82,320.35 L329.02,320.98 L330.23,321.61 L331.43,322.22 L332.63,322.82 L333.83,323.42 L335.03,324.00 L336.24,324.57 L337.44,325.13 L338.64,325.69 L339.84,326.23 L341.04,326.76 L342.25,327.28 L343.45,327.79 L344.65,328.29 L345.85,328.78 L347.05,329.26 L348.26,329.73 L349.46,330.19 L350.66,330.64 L351.86,331.07 L353.06,331.50 L354.27,331.91 L355.47,332.31 L356.67,332.70 L357.87,333.08 L359.07,333.45 L360.28,333.80 L361.48,334.15 L362.68,334.48 L363.88,334.80 L365.08,335.11 L366.29,335.40 L367.49,335.68 L368.69,335.95 L369.89,336.21 L371.09,336.45 L372.30,336.68 L373.50,336.89 L374.70,337.09 L375.90,337.28 L377.10,337.45 L378.31,337.61 L379.51,337.75 L380.71,337.87 L381.91,337.98 L383.11,338.07 L384.32,338.13 L385.52,338.18 L386.72,338.20 L387.92,338.20 L389.12,338.20 L390.33,338.20 L391.53,338.20 L392.73,338.20 L393.93,338.20 L395.13,338.20 L396.34,338.20 L397.54,338.20 L398.74,338.20 L399.94,338.20 L401.14,338.20 L402.35,338.20 L403.55,338.20 L404.75,338.20 L405.95,338.20 L407.15,338.20 L408.36,338.20 L409.56,338.20 L410.76,338.20 L411.96,338.20 L413.16,338.20 L414.37,338.20 L415.57,338.20 L416.77,338.20 L417.97,338.20 L419.17,338.20 L420.38,338.20 L421.58,338.20 L422.78,338.20 L423.98,338.20 L425.18,338.20 L426.39,338.20 L427.59,338.20 L428.79,338.20 L429.99,338.20 L431.19,338.20 L432.40,338.20 L433.60,338.20 L434.80,338.20 L436.00,338.20 L437.20,338.20 L438.41,338.20 L439.61,338.20 L440.81,338.20 L442.01,338.20 L443.21,338.20 L444.42,338.20 L445.62,338.20 L446.82,338.20 L448.02,338.20 L449.22,338.20 L450.43,338.20 L451.63,338.20 L452.83,338.20 L454.03,338.20 L455.23,338.20 L456.44,338.20 L457.64,338.20 L458.84,338.20 L460.04,338.20 L461.24,338.20 L462.45,338.20 L463.65,338.20 L464.85,338.20 L466.05,338.20 L467.25,338.20 L468.46,338.20 L469.66,338.20 L470.86,338.20 L472.06,338.20 L473.26,338.20 L474.47,338.20 L475.67,338.20 L476.87,338.20 L478.07,338.20 L479.27,338.20 L480.48,338.20 L481.68,338.20 L482.88,338.20 L484.08,338.20 L485.28,338.20 L486.49,338.20 L487.69,338.20 L488.89,338.20 L490.09,338.20 L491.29,338.20 L492.50,338.20 L493.70,338.20 L494.90,338.20 L496.10,338.20 L497.30,338.20 L498.51,338.20 L499.71,338.20 L500.91,338.20 L502.11,338.20 L503.31,338.20 L504.52,338.20 L505.72,338.20 L506.92,338.20 L508.12,338.20 L509.32,338.20 L510.53,338.20 L511.73,338.20 L512.93,338.20 L514.13,338.20 L515.33,338.20 L516.54,338.20 L517.74,338.20 L518.94,338.20 L520.14,338.20 L521.34,338.20 L522.55,338.20 L523.75,338.20 L524.95,338.20 L526.15,338.20 L527.35,338.20 L528.56,338.20 L529.76,338.20 L530.96,338.20 L532.16,338.20 L533.36,338.20 L534.57,338.20 L535.77,338.20 L536.97,338.20 L538.17,338.20 L539.37,338.20 L540.58,338.20 L541.78,338.20 L542.98,338.20 L544.18,338.20 L545.38,338.20 L546.59,338.20 L547.79,338.20 L548.99,338.20 L550.19,338.20 L551.39,338.20 L552.60,338.20 L553.80,338.20 L555.00,338.20" stroke="#7e2f8e" stroke-width="2.5" fill="none"/>
<path d="M70.40,7.10 H78.00 M74.20,3.30 V10.90 M75.21,15.96 H82.81 M79.01,12.16 V19.76 M84.82,33.38 H92.42 M88.62,29.58 V37.18 M94.44,50.38 H102.04 M98.24,46.58 V54.18 M104.06,66.96 H111.66 M107.86,63.16 V70.76 M113.67,83.11 H121.27 M117.47,79.31 V86.91 M123.29,98.84 H130.89 M127.09,95.04 V102.64 M132.90,114.14 H140.50 M136.70,110.34 V117.94 M142.52,129.00 H150.12 M146.32,125.20 V132.80 M152.14,143.43 H159.74 M155.94,139.63 V147.23 M161.75,157.40 H169.35 M165.55,153.60 V161.20 M171.37,170.94 H178.97 M175.17,167.14 V174.74 M180.98,184.01 H188.58 M184.78,180.21 V187.81 M190.60,196.63 H198.20 M194.40,192.83 V200.43 M200.22,208.79 H207.82 M204.02,204.99 V212.59 M209.83,220.47 H217.43 M213.63,216.67 V224.27 M219.45,231.68 H227.05 M223.25,227.88 V235.48 M229.06,242.40 H236.66 M232.86,238.60 V246.20 M238.68,252.63 H246.28 M242.48,248.83 V256.43 M248.30,262.36 H255.90 M252.10,258.56 V266.16 M257.91,271.59 H265.51 M261.71,267.79 V275.39 M267.53,280.29 H275.13 M271.33,276.49 V284.09 M277.14,288.47 H284.74 M280.94,284.67 V292.27 M286.76,296.11 H294.36 M290.56,292.31 V299.91 M296.38,303.20 H303.98 M300.18,299.40 V307.00 M305.99,309.72 H313.59 M309.79,305.92 V313.52 M315.61,315.65 H323.21 M319.41,311.85 V319.45 M325.22,320.98 H332.82 M329.02,317.18 V324.78 M334.84,325.69 H342.44 M338.64,321.89 V329.49 M344.46,329.73 H352.06 M348.26,325.93 V333.53 M354.07,333.08 H361.67 M357.87,329.28 V336.88 M363.69,335.68 H371.29 M367.49,331.88 V339.48 M373.30,337.45 H380.90 M377.10,333.65 V341.25 M382.92,338.20 H390.52 M386.72,334.40 V342.00 M392.54,338.20 H400.14 M396.34,334.40 V342.00 M402.15,338.20 H409.75 M405.95,334.40 V342.00 M411.77,338.20 H419.37 M415.57,334.40 V342.00 M421.38,338.20 H428.98 M425.18,334.40 V342.00 M431.00,338.20 H438.60 M434.80,334.40 V342.00 M440.62,338.20 H448.22 M444.42,334.40 V342.00 M450.23,338.20 H457.83 M454.03,334.40 V342.00 M459.85,338.20 H467.45 M463.65,334.40 V342.00 M469.46,338.20 H477.06 M473.26,334.40 V342.00 M479.08,338.20 H486.68 M482.88,334.40 V342.00 M488.70,338.20 H496.30 M492.50,334.40 V342.00 M498.31,338.20 H505.91 M502.11,334.40 V342.00 M507.93,338.20 H515.53 M511.73,334.40 V342.00 M517.54,338.20 H525.14 M521.34,334.40 V342.00 M527.16,338.20 H534.76 M530.96,334.40 V342.00 M536.78,338.20 H544.38 M540.58,334.40 V342.00 M546.39,338.20 H553.99 M550.19,334.40 V342.00 M551.20,338.20 H558.80 M555.00,334.40 V342.00" stroke="#7e2f8e" stroke-width="2.2" fill="none"/>
<g font-family="Liberation Serif" fill="#1a1a1a" style="font-kerning:none">

<g transform="translate(210.55,256.70) rotate(-45.08)">
<rect x="-44.20" y="-23" width="88.41" height="22.5" fill="#fff" fill-opacity="0.6"/>
<text x="-38.70" y="-8.3" font-size="16.0" textLength="64.63" lengthAdjust="spacingAndGlyphs">increased</text>
<text x="30.21" y="-8.3" font-size="16.0" font-style="italic" textLength="8.49" lengthAdjust="spacingAndGlyphs">η</text>
</g>
<path d="M264.7,202.4 L156.4,311.0" stroke="#000" stroke-width="2.0" fill="none"/><path d="M156.11,304.78 Q156.95,309.47 156.40,311.00 Q157.93,310.45 162.62,311.27" stroke="#000" stroke-width="1.9" fill="none" stroke-linecap="round"/>
<rect x="450" y="303.5" width="40" height="20" fill="#fff" fill-opacity="0.6"/>
<text x="454.37" y="316.30" font-size="15.0" font-style="italic" textLength="9.67" lengthAdjust="spacingAndGlyphs">ϕ</text>
<text x="463.84" y="318.90" font-size="11.0" textLength="19.75" lengthAdjust="spacingAndGlyphs">crit</text>
<path d="M554.8,324.6 H386.9 M391.10,320.00 Q388.37,323.91 386.90,324.60 Q388.37,325.29 391.10,329.20" stroke="#000" stroke-width="1.8" fill="none" stroke-linecap="round"/>
<path d="M543.8,337.5 V221.8 M548.40,226.00 Q544.49,223.27 543.80,221.80 Q543.11,223.27 539.20,226.00" stroke="#000" stroke-width="1.8" fill="none" stroke-linecap="round"/>
<g transform="translate(534.6,292.9) rotate(-90)">
<text x="0.19" y="0.00" font-size="16.0" font-style="italic" textLength="11.09" lengthAdjust="spacingAndGlyphs">K</text>
<text x="12.90" y="2.80" font-size="11.2" textLength="17.52" lengthAdjust="spacingAndGlyphs">bio</text>
</g>

<rect x="315.6" y="14.0" width="229.6" height="89.2" fill="#fff" stroke="#404040" stroke-width="1.1"/>
<path d="M322.2,28.0 H355" stroke="#0072bd" stroke-width="2.3"/>
<path d="M322.2,48.1 H355" stroke="#d95319" stroke-width="2.3"/><path d="M338.60,42.60 L343.36,50.85 L333.84,50.85 Z" fill="#d95319" stroke="#d95319" stroke-width="0.8"/>
<path d="M322.2,68.7 H355" stroke="#edb120" stroke-width="2.3"/><path d="M338.60,68.70 L338.60,64.50 M338.60,68.70 L334.61,67.40 M338.60,68.70 L336.13,72.10 M338.60,68.70 L341.07,72.10 M338.60,68.70 L342.59,67.40 " stroke="#edb120" stroke-width="2.3"/>
<path d="M322.2,89.0 H355" stroke="#7e2f8e" stroke-width="2.3"/><path d="M334.60,89.00 H342.60 M338.60,85.00 V93.00" stroke="#7e2f8e" stroke-width="2.0"/>
<text x="360.07" y="31.60" font-size="14.8" font-style="italic" textLength="8.76" lengthAdjust="spacingAndGlyphs">η</text><text x="373.28" y="32.80" font-size="14.8" textLength="12.73" lengthAdjust="spacingAndGlyphs">=</text><text x="390.58" y="31.60" font-size="14.8" textLength="28.25" lengthAdjust="spacingAndGlyphs">1.75</text>
<text x="360.07" y="51.60" font-size="14.8" font-style="italic" textLength="8.76" lengthAdjust="spacingAndGlyphs">η</text><text x="373.28" y="52.80" font-size="14.8" textLength="12.73" lengthAdjust="spacingAndGlyphs">=</text><text x="390.61" y="51.60" font-size="14.8" textLength="15.81" lengthAdjust="spacingAndGlyphs">13</text>
<text x="360.07" y="72.00" font-size="14.8" font-style="italic" textLength="8.76" lengthAdjust="spacingAndGlyphs">η</text><text x="373.28" y="73.20" font-size="14.8" textLength="12.73" lengthAdjust="spacingAndGlyphs">=</text><text x="390.55" y="72.00" font-size="14.8" textLength="32.99" lengthAdjust="spacingAndGlyphs">1.75,</text><text x="430.81" y="72.00" font-size="14.8" font-style="italic" textLength="12.01" lengthAdjust="spacingAndGlyphs">K</text><text x="444.30" y="74.00" font-size="10.5" textLength="17.01" lengthAdjust="spacingAndGlyphs">bio</text><text x="466.84" y="73.20" font-size="14.8" textLength="13.09" lengthAdjust="spacingAndGlyphs">=</text><text x="484.63" y="72.00" font-size="14.8" textLength="26.36" lengthAdjust="spacingAndGlyphs">0.35</text><text x="511.83" y="72.00" font-size="14.8" font-style="italic" textLength="12.94" lengthAdjust="spacingAndGlyphs">K</text><text x="527.57" y="74.70" font-size="11.8" textLength="6.96" lengthAdjust="spacingAndGlyphs">0</text>
<text x="360.07" y="92.50" font-size="14.8" font-style="italic" textLength="8.76" lengthAdjust="spacingAndGlyphs">η</text><text x="373.28" y="93.70" font-size="14.8" textLength="12.73" lengthAdjust="spacingAndGlyphs">=</text><text x="390.55" y="92.50" font-size="14.8" textLength="32.99" lengthAdjust="spacingAndGlyphs">1.75,</text><text x="429.57" y="92.20" font-size="14.5" font-style="italic" textLength="9.67" lengthAdjust="spacingAndGlyphs">ϕ</text><text x="439.94" y="94.50" font-size="10.5" textLength="19.75" lengthAdjust="spacingAndGlyphs">crit</text><text x="466.44" y="93.70" font-size="14.8" textLength="13.09" lengthAdjust="spacingAndGlyphs">=</text><text x="483.23" y="92.50" font-size="14.8" textLength="26.36" lengthAdjust="spacingAndGlyphs">0.35</text><text x="509.20" y="92.20" font-size="14.5" font-style="italic" textLength="9.01" lengthAdjust="spacingAndGlyphs">ϕ</text><text x="520.67" y="95.20" font-size="11.8" textLength="6.96" lengthAdjust="spacingAndGlyphs">0</text>

<text x="230.91" y="384.60" font-size="15.6" textLength="56.76" lengthAdjust="spacingAndGlyphs">Porosity</text><text x="295.21" y="384.60" font-size="15.6" textLength="70.25" lengthAdjust="spacingAndGlyphs">Reduction</text><text x="372.96" y="384.60" font-size="15.6" textLength="25.18" lengthAdjust="spacingAndGlyphs">(%)</text><g transform="translate(10.6,0) rotate(-90)"><text x="-316.92" y="0.00" font-size="15.0" textLength="38.80" lengthAdjust="spacingAndGlyphs">Ratio</text><text x="-272.61" y="0.00" font-size="15.0" textLength="13.41" lengthAdjust="spacingAndGlyphs">of</text><text x="-253.03" y="0.00" font-size="15.0" textLength="41.88" lengthAdjust="spacingAndGlyphs">Initial</text><text x="-205.49" y="0.00" font-size="15.0" textLength="15.24" lengthAdjust="spacingAndGlyphs">to</text><text x="-185.30" y="0.00" font-size="15.0" textLength="61.12" lengthAdjust="spacingAndGlyphs">Reduced</text><text x="-118.10" y="0.00" font-size="15.0" textLength="88.97" lengthAdjust="spacingAndGlyphs">Permeability</text></g>
</g>
</svg></body></html>
